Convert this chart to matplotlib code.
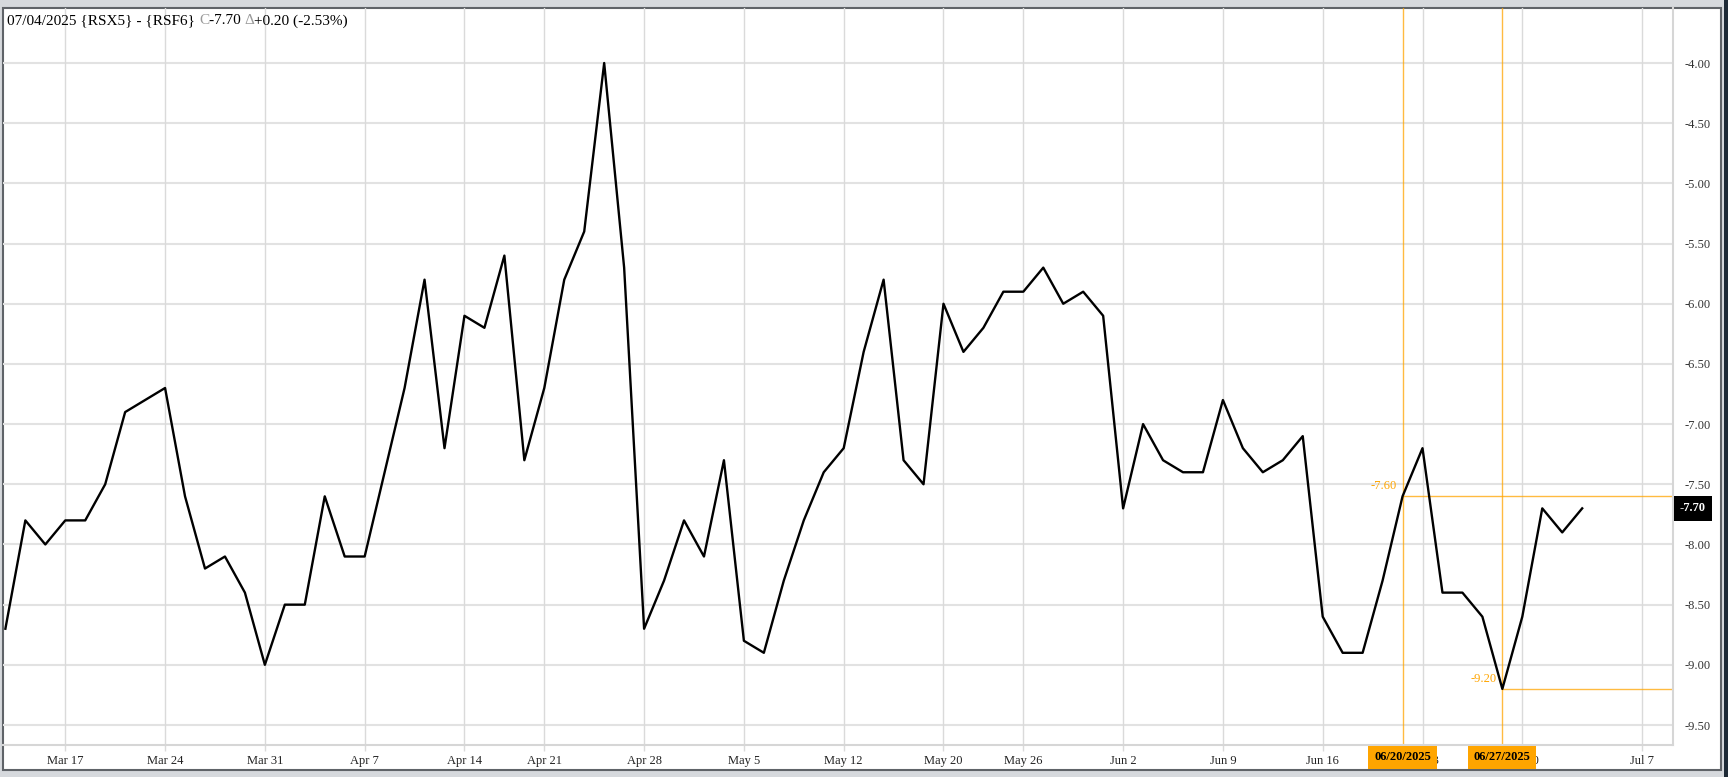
import matplotlib
matplotlib.use("Agg")
import matplotlib.pyplot as plt
from matplotlib.patches import Rectangle
import matplotlib.transforms as mtransforms

# spread {RSX5} - {RSF6}, one value per trading day starting Mar 12 2025
values = [-8.70, -7.80, -8.00, -7.80, -7.80, -7.50, -6.90, -6.80, -6.70, -7.60,
          -8.20, -8.10, -8.40, -9.00, -8.50, -8.50, -7.60, -8.10, -8.10, -7.40,
          -6.70, -5.80, -7.20, -6.10, -6.20, -5.60, -7.30, -6.70, -5.80, -5.40,
          -4.00, -5.70, -8.70, -8.30, -7.80, -8.10, -7.30, -8.80, -8.90, -8.30,
          -7.80, -7.40, -7.20, -6.40, -5.80, -7.30, -7.50, -6.00, -6.40, -6.20,
          -5.90, -5.90, -5.70, -6.00, -5.90, -6.10, -7.70, -7.00, -7.30, -7.40,
          -7.40, -6.80, -7.20, -7.40, -7.30, -7.10, -8.60, -8.90, -8.90, -8.30,
          -7.60, -7.20, -8.40, -8.40, -8.60, -9.20, -8.60, -7.70, -7.90, -7.70]

tick_pos = [3, 8, 13, 18, 23, 27, 32, 37, 42, 47, 51, 56, 61, 66, 71, 76, 82]
tick_labels = ["Mar 17", "Mar 24", "Mar 31", "Apr 7", "Apr 14", "Apr 21", "Apr 28",
               "May 5", "May 12", "May 20", "May 26", "Jun 2", "Jun 9", "Jun 16",
               "Jun 23", "Jun 30", "Jul 7"]
y_ticks = [-4.0, -4.5, -5.0, -5.5, -6.0, -6.5, -7.0, -7.5, -8.0, -8.5, -9.0, -9.5]

# marked points: (index, value, date label)
marks_idx = [70, 75]
marks_val = [-7.60, -9.20]
marks_date = ["06/20/2025", "06/27/2025"]

last_val = -7.70
orange = "#ffa500"
plt.rcParams["font.family"] = ["Liberation Serif", "DejaVu Serif"]

W, H = 1728, 777
fig = plt.figure(figsize=(W / 100, H / 100), dpi=100, facecolor="#d6d9dd")

# white panel with dark border, dark strip on far right
fig.patches.append(Rectangle((3 / W, 1 - 770 / H), (1721 - 3) / W, (770 - 8) / H,
                             transform=fig.transFigure, facecolor="white",
                             edgecolor="#5f6368", lw=1.5, zorder=-10))
fig.patches.append(Rectangle((1724 / W, 0), 4 / W, 1, transform=fig.transFigure,
                             facecolor="#1e2a36", edgecolor="none", zorder=-10))

ax = fig.add_axes([3 / W, 1 - 745 / H, 1670 / W, 737 / H])
ax.set_facecolor("none")

x = list(range(len(values)))
ax.plot(x, values, color="black", lw=1.7, zorder=4)

xmax = 83.55
ax.set_xlim(-0.12, xmax)
ax.set_ylim(-9.666, -3.543)

# grid
for yv in y_ticks:
    ax.axhline(yv, color="#e2e2e2", lw=1.5, zorder=1)
for xv in tick_pos:
    ax.axvline(xv, color="#dadada", lw=1.0, zorder=1)

ax.set_xticks(tick_pos)
ax.set_xticklabels(tick_labels, fontsize=9, color="#222222")
ax.tick_params(axis="x", length=4, color="#dadada", width=1.0, pad=3)
ax.yaxis.tick_right()
ax.set_yticks(y_ticks)
ax.set_yticklabels([f"{v:.2f}" for v in y_ticks], fontsize=9, color="#333333")
ax.tick_params(axis="y", length=0, pad=8)

for s in ["left", "top"]:
    ax.spines[s].set_visible(False)
for s in ["bottom", "right"]:
    ax.spines[s].set_color("#d6d6d6")
    ax.spines[s].set_linewidth(1.5)

# orange markers
bt = mtransforms.blended_transform_factory(ax.transData, ax.transAxes)
for xi, yv, d in zip(marks_idx, marks_val, marks_date):
    ax.axvline(xi, color=orange, lw=1.0, alpha=0.75, zorder=2)
    ax.plot([xi, xmax], [yv, yv], color=orange, lw=1.0, alpha=0.75, zorder=2)
    ax.annotate(f"{yv:.2f}", xy=(xi, yv), xytext=(-4, 3), textcoords="offset points",
                ha="right", va="bottom", fontsize=9, color=orange, zorder=5)
    ax.text(xi, -0.0165, d, transform=bt, ha="center", va="center", fontsize=9,
            fontweight="bold", color="black", zorder=6, clip_on=False,
            bbox=dict(boxstyle="square,pad=0.45", facecolor=orange, edgecolor="none"))

# last value tag
ax.annotate(f"{last_val:.2f}", xy=(1.0, last_val),
            xycoords=("axes fraction", "data"), xytext=(5, 0),
            textcoords="offset points", ha="left", va="center", fontsize=9,
            fontweight="bold", color="white", zorder=6, annotation_clip=False,
            bbox=dict(boxstyle="square,pad=0.5", facecolor="black", edgecolor="none"))

# header, pieces chained so "C" and the delta can be grey
parts = [("C", "#9a9a9a"), ("-7.70 ", "black"), ("\u0394", "#9a9a9a"),
         ("+0.20 (-2.53%)", "black")]
prev = ax.text(4 / 1670, 1 - 13 / 737, "07/04/2025 {RSX5} - {RSF6} ",
               transform=ax.transAxes, fontsize=11, color="black",
               ha="left", va="center", zorder=6)
for txt, col in parts:
    prev = ax.annotate(txt, xy=(1, 0), xycoords=prev, xytext=(0, 0),
                       textcoords="offset points", ha="left", va="bottom",
                       fontsize=11, color=col, annotation_clip=False, zorder=6)

fig.savefig("out.png", dpi=100, facecolor=fig.get_facecolor())
